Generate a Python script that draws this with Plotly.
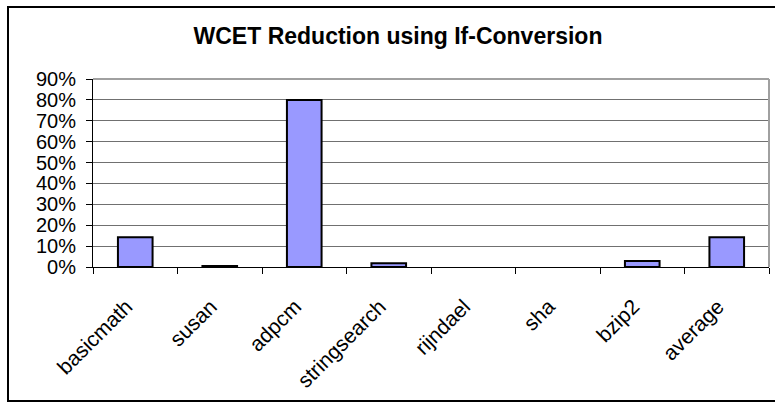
import plotly.graph_objects as go

# Benchmark names and WCET reduction (fraction) achieved by if-conversion
benchmarks = ["basicmath", "susan", "adpcm", "stringsearch", "rijndael", "sha", "bzip2", "average"]
reduction = [0.142, 0.005, 0.80, 0.018, 0.0, 0.0, 0.029, 0.142]
y_ticks = [0.0, 0.1, 0.2, 0.3, 0.4, 0.5, 0.6, 0.7, 0.8, 0.9]

W, H = 775, 403
ML, MR, MT, MB = 93, 6, 79, 136
pw, ph = W - ML - MR, H - MT - MB

# empty bars get no outline so nothing is drawn for them
outline = [2 if v > 0 else 0 for v in reduction]

fig = go.Figure(
    go.Bar(
        x=benchmarks,
        y=reduction,
        width=0.41,
        marker=dict(color="#9999FF", line=dict(color="black", width=outline)),
    )
)

FONT = "Liberation Sans, Arial, sans-serif"

def px_x(p):
    return (p - ML) / pw

def px_y(p):
    return (H - MB - p) / ph

fig.update_layout(
    width=W,
    height=H,
    margin=dict(l=ML, r=MR, t=MT, b=MB, pad=0),
    paper_bgcolor="white",
    plot_bgcolor="white",
    showlegend=False,
    font=dict(family=FONT, color="black", size=17),
    title=dict(
        text="<b>WCET Reduction using If-Conversion</b>",
        font=dict(family=FONT, size=23, color="black"),
        x=398 / W,
        xanchor="center",
        y=1 - 36 / H,
        yanchor="middle",
    ),
    xaxis=dict(
        type="category",
        tickson="boundaries",
        ticks="outside",
        ticklen=6,
        tickwidth=1,
        tickcolor="black",
        showline=True,
        linecolor="black",
        linewidth=1,
        showgrid=False,
        tickangle=-45,
        ticklabelstandoff=18,
        ticklabelshift=-9,
        tickfont=dict(family=FONT, size=21),
    ),
    yaxis=dict(
        range=[0, 0.9],
        tickvals=y_ticks,
        tickformat=".0%",
        ticks="outside",
        ticklen=6,
        tickcolor="black",
        showline=True,
        linecolor="black",
        linewidth=1,
        showgrid=True,
        gridcolor="#707070",
        gridwidth=1,
        zeroline=False,
        ticklabelstandoff=6,
        tickfont=dict(family=FONT, size=20),
    ),
    shapes=[
        # plot-area frame (top and right edges)
        dict(type="line", xref="paper", yref="paper", x0=0, x1=1, y0=1, y1=1,
             line=dict(color="#a0a0a0", width=2)),
        dict(type="line", xref="paper", yref="paper", x0=1, x1=1, y0=0, y1=1,
             line=dict(color="#a0a0a0", width=2)),
        # chart-area border
        dict(type="rect", xref="paper", yref="paper",
             x0=px_x(8), x1=px_x(780), y0=px_y(401), y1=px_y(7),
             line=dict(color="black", width=2), layer="above"),
    ],
)

fig.write_html("out.html")
